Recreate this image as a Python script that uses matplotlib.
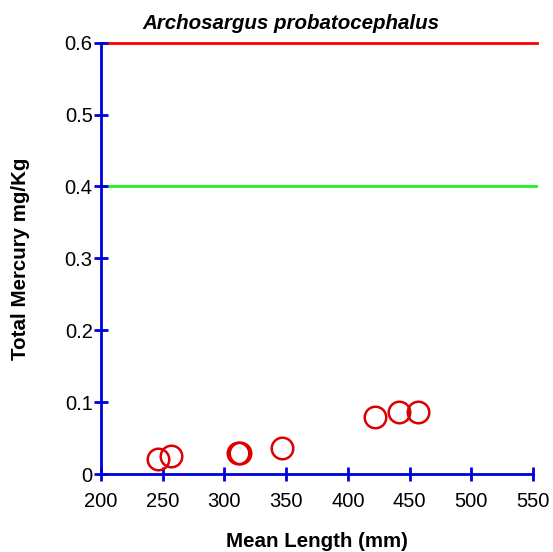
import matplotlib
matplotlib.use("Agg")
import matplotlib.pyplot as plt

plt.rcParams["font.family"] = ["Liberation Sans", "DejaVu Sans"]

title = "Archosargus probatocephalus"
mean_length = [246.4, 256.7, 311.3, 312.8, 346.4, 421.8, 441.7, 457.1]
total_mercury = [0.021, 0.025, 0.029, 0.029, 0.036, 0.079, 0.086, 0.086]
red_limit = 0.6
green_limit = 0.4
x_ticks = [200, 250, 300, 350, 400, 450, 500, 550]
y_ticks = [0, 0.1, 0.2, 0.3, 0.4, 0.5, 0.6]
y_tick_labels = ["0", "0.1", "0.2", "0.3", "0.4", "0.5", "0.6"]

blue = "#0000dd"
fig = plt.figure(figsize=(5.53, 5.52), dpi=100)
ax = fig.add_axes([0.1826, 0.1413, 0.7812, 0.7813])

ax.axhline(red_limit, xmin=0, xmax=1.01, color="#ff0000", lw=2, clip_on=False, zorder=1)
ax.axhline(green_limit, xmin=0, xmax=1.007, color="#22f022", lw=2, clip_on=False, zorder=1)
ax.plot(mean_length, total_mercury, "o", ms=15.5, mfc="none", mec="#dd0000", mew=1.8, zorder=3)

ax.set_xlim(200, 550)
ax.set_ylim(0, 0.6)
ax.set_xticks(x_ticks)
ax.set_yticks(y_ticks)
ax.set_yticklabels(y_tick_labels)
ax.spines[["top", "right"]].set_visible(False)
for side in ("left", "bottom"):
    ax.spines[side].set_color(blue)
    ax.spines[side].set_linewidth(2)
ax.tick_params(direction="inout", length=10, width=2, color=blue, labelsize=14.5)
ax.tick_params(axis="x", pad=8)
ax.tick_params(axis="y", pad=1)
ax.set_xlabel("Mean Length (mm)", fontsize=14.8, fontweight="bold", labelpad=15)
ax.set_ylabel("Total Mercury mg/Kg", fontsize=14.8, fontweight="bold", labelpad=25)
fig.text(0.526, 0.958, title, ha="center", va="center", fontsize=14.8,
         fontweight="bold", fontstyle="italic")

fig.savefig("out.png", dpi=100)
